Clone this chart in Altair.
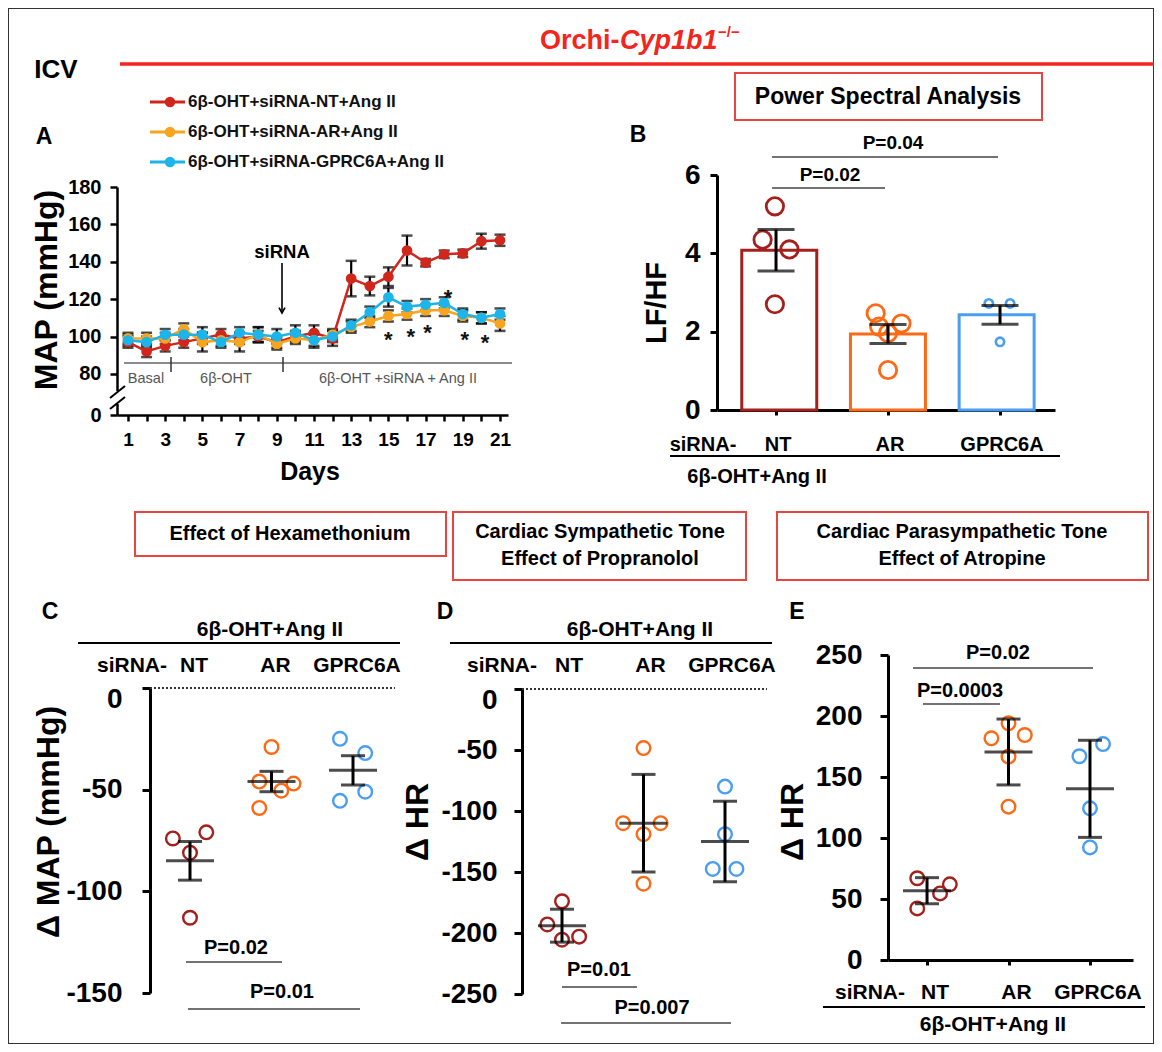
import altair as alt
import pandas as pd

# ---------------- data ----------------
series_names = ["6β-OHT+siRNA-NT+Ang II", "6β-OHT+siRNA-AR+Ang II", "6β-OHT+siRNA-GPRC6A+Ang II"]
days = list(range(1, 22))
map_nt = [97, 92, 95, 97, 99, 101, 99, 100, 97, 100, 102, 99, 131, 127, 132, 146, 139.5, 144, 144.5, 151, 151.5]
sem_nt = [3, 3, 3, 3, 3, 3, 3, 3, 3, 3, 4, 4, 9.5, 5, 5, 8, 2, 2, 2, 4, 3]
map_ar = [99, 99, 99, 104, 97, 98, 97, 101, 96, 99, 98, 101, 105, 108, 111, 112, 114, 114, 111, 110, 107]
sem_ar = [3, 3, 3, 3, 5, 3, 5, 4, 3, 3, 3, 3, 3, 3, 3, 3, 3, 3, 3, 3, 4]
map_gp = [98, 97, 101, 101, 101, 97, 102, 101, 100, 102, 98, 100, 106, 113, 121, 116, 117, 118, 112, 110, 112]
sem_gp = [3, 3, 3, 3, 4, 3, 3, 4, 4, 4, 4, 3, 3, 3, 5, 3, 3, 3, 3, 3, 3]
star_day = [15, 16.2, 17.1, 18.2, 19.1, 20.2]
star_map = [101.5, 103, 105, 124, 101.5, 100]

groups = ["NT", "AR", "GPRC6A"]
grp_idx = [0, 0, 0, 0, 1, 1, 1, 1, 1, 2, 2, 2]
lfhf_mean = [4.08, 1.94, 2.43]
lfhf_sem = [0.53, 0.24, 0.24]
lfhf_val = [5.2, 4.35, 4.1, 2.7, 2.47, 2.13, 2.21, 1.96, 1.02, 2.72, 2.72, 1.74]
lfhf_jit = [-0.01, -0.12, 0.12, -0.01, -0.11, -0.08, 0.12, 0.0, 0.0, -0.1, 0.09, 0.0]

pt_idx = [0, 0, 0, 0, 1, 1, 1, 1, 1, 2, 2, 2, 2]
dmap_val = [-74, -71, -81, -113, -29, -46, -47, -50.5, -59, -25, -32, -51, -55.5]
dmap_jit = [-0.21, 0.2, 0.0, 0.0, 0.0, -0.15, 0.27, 0.12, -0.15, -0.16, 0.15, 0.15, -0.16]
dmap_mean = [-85, -46, -40.5]
dmap_err = [9.5, 5, 7.2]

dhr_prop_val = [-174, -193, -203, -205.5, -48.4, -110, -110, -119, -159.6, -80, -119, -147.5, -147.5]
dhr_prop_jit = [0.0, -0.18, 0.21, 0.0, 0.0, -0.25, 0.21, 0.0, 0.0, 0.0, 0.0, -0.15, 0.14]
dhr_prop_mean = [-194, -110, -125]
dhr_prop_err = [13.5, 40, 33]

dhr_atr_val = [67, 62, 54.6, 42.3, 194, 181.7, 184.4, 166.7, 125.7, 177, 167, 124.3, 92.3]
dhr_atr_jit = [-0.12, 0.28, 0.16, -0.12, 0.0, -0.21, 0.2, 0.0, 0.0, 0.16, -0.13, 0.0, 0.0]
dhr_atr_mean = [56.8, 170.5, 140.3]
dhr_atr_err = [10.7, 27, 39.8]

# ---------------- style / layout ----------------
W, H = 1146, 1036
FONT = "Liberation Sans, Arial, sans-serif"
A_COLORS = ["#d0261b", "#f7a51e", "#1db4ea"]
G_COLORS = ["#a3201d", "#fb6a16", "#4a9ef2"]
RED = "#f2261c"
BOX_RED = "#e8453e"


def px(v):
    return v - 8


BLANK = alt.Data(values=[{"k": 0}])


def txt(s, x, y, size, weight="bold", color="black", align="center", angle=None, style=None):
    kw = dict(text=s, font=FONT, fontSize=size, fontWeight=weight, color=color, align=align, baseline="middle")
    if angle is not None:
        kw["angle"] = angle
    if style is not None:
        kw["fontStyle"] = style
    return alt.Chart(BLANK).mark_text(**kw).encode(x=alt.value(px(x)), y=alt.value(px(y)))


def seg(x1, y1, x2, y2, color="black", width=1.5, dash=None):
    kw = dict(color=color, strokeWidth=width)
    if dash:
        kw["strokeDash"] = dash
    return alt.Chart(BLANK).mark_rule(**kw).encode(
        x=alt.value(px(x1)), y=alt.value(px(y1)), x2=alt.value(px(x2)), y2=alt.value(px(y2)))


def box(x1, y1, x2, y2, stroke=BOX_RED, width=2):
    return alt.Chart(BLANK).mark_rect(fill="white", stroke=stroke, strokeWidth=width).encode(
        x=alt.value(px(x1)), y=alt.value(px(y1)), x2=alt.value(px(x2)), y2=alt.value(px(y2)))


def wrect(x1, y1, x2, y2):
    return alt.Chart(BLANK).mark_rect(fill="white").encode(
        x=alt.value(px(x1)), y=alt.value(px(y1)), x2=alt.value(px(x2)), y2=alt.value(px(y2)))


def lin(domain, r0, r1):
    return alt.Scale(domain=domain, range=[px(r0), px(r1)], zero=False, nice=False)


AX = dict(title=None, grid=False, domainColor="black", tickColor="black", labelColor="black",
          labelFont=FONT, labelFontWeight="bold", labelFlush=False, labelOverlap=False)


def left_axis(xpos, values, size, pad, tick=8, width=3, expr="'' + datum.value", zero_shift=0):
    kw = dict(orient="left", offset=-px(xpos), values=values, labelFontSize=size, labelPadding=pad,
              tickSize=tick, tickWidth=width, domainWidth=width, labelExpr=expr, **AX)
    if zero_shift:
        kw["labelOffset"] = {"condition": {"test": "datum.value == 0", "value": zero_shift}, "value": 0}
    return alt.Axis(**kw)


def bottom_axis(ypos, values, size=19, pad=8, tick=6, width=3, expr=None, labels=True):
    kw = dict(orient="bottom", offset=px(ypos) - H, values=values, labelFontSize=size, labelPadding=pad,
              tickSize=tick, tickWidth=width, domainWidth=width, labels=labels, **AX)
    if expr:
        kw["labelExpr"] = expr
    return alt.Axis(**kw)


layers = []

# ---------------- header ----------------
layers.append(seg(120, 64, 1160, 64, color=RED, width=3.5))
layers.append(txt("Orchi-", 540, 41, 27, color=RED, align="left"))
layers.append(txt("Cyp1b1", 620, 41, 27, color=RED, align="left", style="italic"))
layers.append(txt("−/−", 718, 32, 15, color=RED, align="left"))
layers.append(txt("ICV", 56, 70, 26))
layers.append(txt("A", 44, 137, 23))

# legend
dfL = pd.DataFrame({"series": series_names})
LY = alt.Y("series:N", scale=alt.Scale(type="point", domain=series_names, range=[px(102), px(162)], padding=0), axis=None)
LC = alt.Color("series:N", scale=alt.Scale(domain=series_names, range=A_COLORS), legend=None)
layers.append(alt.Chart(dfL).mark_rule(strokeWidth=3).encode(x=alt.value(px(150)), x2=alt.value(px(185)), y=LY, color=LC))
layers.append(alt.Chart(dfL).mark_circle(size=110, opacity=1).encode(x=alt.value(px(170)), y=LY, color=LC))
layers.append(alt.Chart(dfL).mark_text(align="left", baseline="middle", font=FONT, fontSize=17, fontWeight="bold",
                                       color="#111").encode(x=alt.value(px(188)), y=LY, text="series:N"))

# ---------------- panel A ----------------
XA = lin([0.41, 21.43], 117, 508)
YA = lin([58, 180], 415, 187)
rows = []
for name, vals, sems in zip(series_names, [map_nt, map_ar, map_gp], [sem_nt, sem_ar, sem_gp]):
    for d, v, s in zip(days, vals, sems):
        rows.append({"series": name, "day": d, "map": v, "lo": v - s, "hi": v + s})
dfA = pd.DataFrame(rows)


def xA(f="day", axis=None):
    return alt.X(f + ":Q", scale=XA, axis=axis)


def yA(f, axis=None):
    return alt.Y(f + ":Q", scale=YA, axis=axis)


layers.append(alt.Chart(dfA).mark_point(opacity=0).encode(
    x=xA("day", bottom_axis(415, days, size=19, pad=9, tick=6, width=2.5,
                            expr="datum.value % 2 == 1 ? '' + datum.value : ''")),
    y=yA("map", left_axis(117, [58, 80, 100, 120, 140, 160, 180], 20, 9, tick=7, width=2.5,
                          expr="datum.value == 58 ? '0' : '' + datum.value"))))
layers.append(alt.Chart(dfA).mark_rule(color="black", strokeWidth=2.2).encode(x=xA(), y=yA("lo"), y2="hi:Q"))
for f in ["lo", "hi"]:
    layers.append(alt.Chart(dfA).mark_tick(orient="horizontal", size=11, thickness=2.5, color="black").encode(
        x=xA(), y=yA(f)))
for name, col in zip(series_names, A_COLORS):
    base = alt.Chart(dfA).transform_filter(alt.datum.series == name)
    layers.append(base.mark_line(color=col, strokeWidth=2.5).encode(x=xA(), y=yA("map")))
    layers.append(base.mark_circle(color=col, size=115, opacity=1).encode(x=xA(), y=yA("map")))
dfS = pd.DataFrame({"day": star_day, "map": star_map})
layers.append(alt.Chart(dfS).mark_text(text="*", font=FONT, fontSize=22, fontWeight="bold", baseline="middle",
                                       dy=6, color="#111").encode(x=xA(), y=yA("map")))
# phase annotations
layers.append(seg(124, 363, 512, 363, color="#666", width=1.5))
layers.append(seg(171, 357, 171, 372, color="#333", width=1.5))
layers.append(seg(283, 357, 283, 372, color="#333", width=1.5))
layers.append(txt("Basal", 146, 379, 14.5, weight="normal", color="#555"))
layers.append(txt("6β-OHT", 226, 379, 14.5, weight="normal", color="#555"))
layers.append(txt("6β-OHT +siRNA + Ang II", 398, 379, 14.5, weight="normal", color="#555"))
# siRNA arrow
layers.append(txt("siRNA", 282, 252, 18.5))
layers.append(seg(282, 263, 282, 312, width=1.6))
layers.append(alt.Chart(BLANK).mark_point(shape="M -1 -1.8 L 0 0 L 1 -1.8", filled=False, size=36, strokeWidth=1.6,
                                          color="black", opacity=1).encode(x=alt.value(px(282)), y=alt.value(px(313))))
# axis break
layers.append(wrect(113, 391, 122, 404))
layers.append(seg(110, 398, 125, 386, width=2))
layers.append(seg(110, 409, 125, 397, width=2))
layers.append(txt("MAP (mmHg)", 47, 290, 32, angle=270))
layers.append(txt("Days", 310, 472, 25))

# ---------------- panel B ----------------
layers.append(box(735, 73, 1042, 120))
layers.append(txt("Power Spectral Analysis", 888, 97, 23))
layers.append(txt("B", 638, 135, 23))
XB = lin([-0.527, 2.491], 717, 1055)
YB = lin([0, 6], 410, 175)
dfBm = pd.DataFrame({"grp": groups, "x": [0, 1, 2], "m": lfhf_mean,
                     "lo": [m - s for m, s in zip(lfhf_mean, lfhf_sem)],
                     "hi": [m + s for m, s in zip(lfhf_mean, lfhf_sem)]})
dfBp = pd.DataFrame({"grp": [groups[g] for g in grp_idx],
                     "x": [g + j for g, j in zip(grp_idx, lfhf_jit)], "v": lfhf_val})
GS = alt.Stroke("grp:N", scale=alt.Scale(domain=groups, range=G_COLORS), legend=None)


def xB(axis=None):
    return alt.X("x:Q", scale=XB, axis=axis)


def yB(f, axis=None):
    return alt.Y(f + ":Q", scale=YB, axis=axis)


layers.append(alt.Chart(dfBm).mark_point(opacity=0).encode(
    x=xB(bottom_axis(410, [0, 1, 2], tick=5, width=3, labels=False)),
    y=yB("m", left_axis(717, [0, 2, 4, 6], 28, 10, tick=7, width=3))))
layers.append(alt.Chart(dfBm).mark_bar(size=75, fill="white", strokeWidth=3, orient="vertical").encode(
    x=xB(), y=yB("m"), y2=alt.Y2Datum(datum=0), stroke=GS))
layers.append(alt.Chart(dfBp).transform_filter(alt.datum.grp != "GPRC6A").mark_point(
    shape="circle", filled=False, strokeWidth=2.8, size=300, opacity=1).encode(x=xB(), y=yB("v"), stroke=GS))
layers.append(alt.Chart(dfBp).transform_filter(alt.datum.grp == "GPRC6A").mark_point(
    shape="circle", filled=False, strokeWidth=2.6, size=70, opacity=1).encode(x=xB(), y=yB("v"), stroke=GS))
layers.append(alt.Chart(dfBm).mark_rule(color="black", strokeWidth=3).encode(x=xB(), y=yB("lo"), y2="hi:Q"))
for f in ["lo", "hi"]:
    layers.append(alt.Chart(dfBm).mark_tick(orient="horizontal", size=37, thickness=3, color="black").encode(
        x=xB(), y=yB(f)))
dfBl = pd.DataFrame({"x": [0, 1, 2], "lab": groups})
layers.append(alt.Chart(dfBl).mark_text(font=FONT, fontSize=20, fontWeight="bold", baseline="middle", dx=2).encode(
    x=xB(), y=alt.value(px(445)), text="lab:N"))
layers.append(txt("siRNA-", 703, 445, 20))
layers.append(seg(670, 456, 1060, 456, width=2))
layers.append(txt("6β-OHT+Ang II", 757, 477, 20))
layers.append(txt("LF/HF", 657, 303, 29, angle=270))
layers.append(seg(772, 157, 998, 157, color="#444", width=1.6))
layers.append(txt("P=0.04", 893, 143, 19))
layers.append(seg(772, 188, 885, 188, color="#444", width=1.6))
layers.append(txt("P=0.02", 830, 175, 19))

# ---------------- row 2 headers ----------------
layers.append(box(135, 512, 446, 556))
layers.append(txt("Effect of Hexamethonium", 290, 534, 20))
layers.append(box(453, 512, 746, 580))
layers.append(txt("Cardiac Sympathetic Tone", 600, 532, 20))
layers.append(txt("Effect of  Propranolol", 600, 559, 20))
layers.append(box(777, 512, 1148, 580))
layers.append(txt("Cardiac Parasympathetic Tone", 962, 532, 20))
layers.append(txt("Effect of  Atropine", 962, 559, 20))


# ---------------- dot panels C, D, E ----------------
def dot_panel(vals, jit, means, errs, xs, ys, yaxis, xaxis=None, mean_w=48, cap_w=24):
    dfp = pd.DataFrame({"grp": [groups[g] for g in pt_idx],
                        "x": [g + j for g, j in zip(pt_idx, jit)], "v": vals})
    dfm = pd.DataFrame({"grp": groups, "x": [0, 1, 2], "m": means,
                        "lo": [m - e for m, e in zip(means, errs)],
                        "hi": [m + e for m, e in zip(means, errs)]})
    out = []
    out.append(alt.Chart(dfm).mark_point(opacity=0).encode(
        x=alt.X("x:Q", scale=xs, axis=xaxis), y=alt.Y("m:Q", scale=ys, axis=yaxis)))
    X = alt.X("x:Q", scale=xs, axis=None)
    out.append(alt.Chart(dfp).mark_point(shape="circle", filled=False, strokeWidth=2.4, size=185, opacity=1).encode(
        x=X, y=alt.Y("v:Q", scale=ys, axis=None), stroke=GS))
    out.append(alt.Chart(dfm).mark_rule(color="black", strokeWidth=3).encode(
        x=X, y=alt.Y("lo:Q", scale=ys, axis=None), y2="hi:Q"))
    for f, w in [("lo", cap_w), ("hi", cap_w), ("m", mean_w)]:
        out.append(alt.Chart(dfm).mark_tick(orient="horizontal", size=w, thickness=3, color="black").encode(
            x=X, y=alt.Y(f + ":Q", scale=ys, axis=None)))
    return out


def cat_labels(xs, y, dx=6, size=21):
    d = pd.DataFrame({"x": [0, 1, 2], "lab": groups})
    return alt.Chart(d).mark_text(font=FONT, fontSize=size, fontWeight="bold", baseline="middle", dx=dx).encode(
        x=alt.X("x:Q", scale=xs, axis=None), y=alt.value(px(y)), text="lab:N")


# Panel C
XC = lin([-1, 3], 108.5, 434.5)
YC = lin([-150, 0], 993, 688)
layers.append(txt("C", 50, 612, 23))
layers.append(txt("6β-OHT+Ang II", 270, 630, 21))
layers.append(seg(78, 643, 400, 643, width=2))
layers.append(txt("siRNA-", 132, 666, 21))
layers.append(cat_labels(XC, 666, dx=4))
layers.append(alt.Chart(BLANK).mark_rule(color="#333", strokeWidth=2, strokeDash=[2, 2]).encode(
    x=alt.value(px(150)), x2=alt.value(px(395)), y=alt.Y(datum=0, type="quantitative", scale=YC, axis=None)))
layers += dot_panel(dmap_val, dmap_jit, dmap_mean, dmap_err, XC, YC,
                    left_axis(150, [-150, -100, -50, 0], 28, 20, tick=8, width=3, zero_shift=11))
layers.append(txt("Δ MAP (mmHg)", 49, 822, 32, angle=270))
layers.append(txt("P=0.02", 236, 948, 20))
layers.append(seg(186, 962, 282, 962, color="#444", width=1.6))
layers.append(txt("P=0.01", 282, 992, 20))
layers.append(seg(188, 1009, 360, 1009, color="#444", width=1.6))

# Panel D
XD = lin([-1, 3], 480.5, 806.5)
YD = lin([-250, 0], 994, 689)
layers.append(txt("D", 445, 612, 23))
layers.append(txt("6β-OHT+Ang II", 640, 630, 21))
layers.append(seg(450, 643, 772, 643, width=2))
layers.append(txt("siRNA-", 502, 666, 21))
layers.append(cat_labels(XD, 666, dx=7))
layers.append(alt.Chart(BLANK).mark_rule(color="#333", strokeWidth=2, strokeDash=[2, 2]).encode(
    x=alt.value(px(522)), x2=alt.value(px(767)), y=alt.Y(datum=0, type="quantitative", scale=YD, axis=None)))
layers += dot_panel(dhr_prop_val, dhr_prop_jit, dhr_prop_mean, dhr_prop_err, XD, YD,
                    left_axis(522, [-250, -200, -150, -100, -50, 0], 28, 17, tick=8, width=3, zero_shift=11))
layers.append(txt("Δ HR", 418, 822, 32, angle=270))
layers.append(txt("P=0.01", 599, 970, 20))
layers.append(seg(562, 987, 637, 987, color="#444", width=1.6))
layers.append(txt("P=0.007", 652, 1008, 20))
layers.append(seg(561, 1023, 731, 1023, color="#444", width=1.6))

# Panel E
XE = lin([-0.479, 2.528], 888, 1133)
YE = lin([0, 250], 960, 655)
layers.append(txt("E", 797, 612, 23))
layers += dot_panel(dhr_atr_val, dhr_atr_jit, dhr_atr_mean, dhr_atr_err, XE, YE,
                    left_axis(888, [0, 50, 100, 150, 200, 250], 28, 18, tick=8, width=3),
                    xaxis=bottom_axis(960, [0, 1, 2], tick=5, width=3, labels=False))
layers.append(txt("Δ HR", 793, 822, 32, angle=270))
layers.append(txt("siRNA-", 870, 993, 21))
layers.append(cat_labels(XE, 993, dx=8))
layers.append(seg(823, 1007, 1145, 1007, width=2))
layers.append(txt("6β-OHT+Ang II", 993, 1025, 21))
layers.append(txt("P=0.02", 998, 653, 20))
layers.append(seg(913, 668, 1093, 668, color="#444", width=1.6))
layers.append(txt("P=0.0003", 960, 691, 20))
layers.append(seg(923, 704, 1000, 704, color="#444", width=1.6))

chart = alt.layer(*layers).resolve_scale(
    x="independent", y="independent", color="independent", stroke="independent"
).properties(
    width=W, height=H, autosize=alt.AutoSizeParams(type="none"),
    padding={"left": 0, "top": 0, "right": 0, "bottom": 0}
).configure_view(stroke="#333", strokeWidth=2)

chart.save("out.html", embed_options={"renderer": "svg", "actions": False})
